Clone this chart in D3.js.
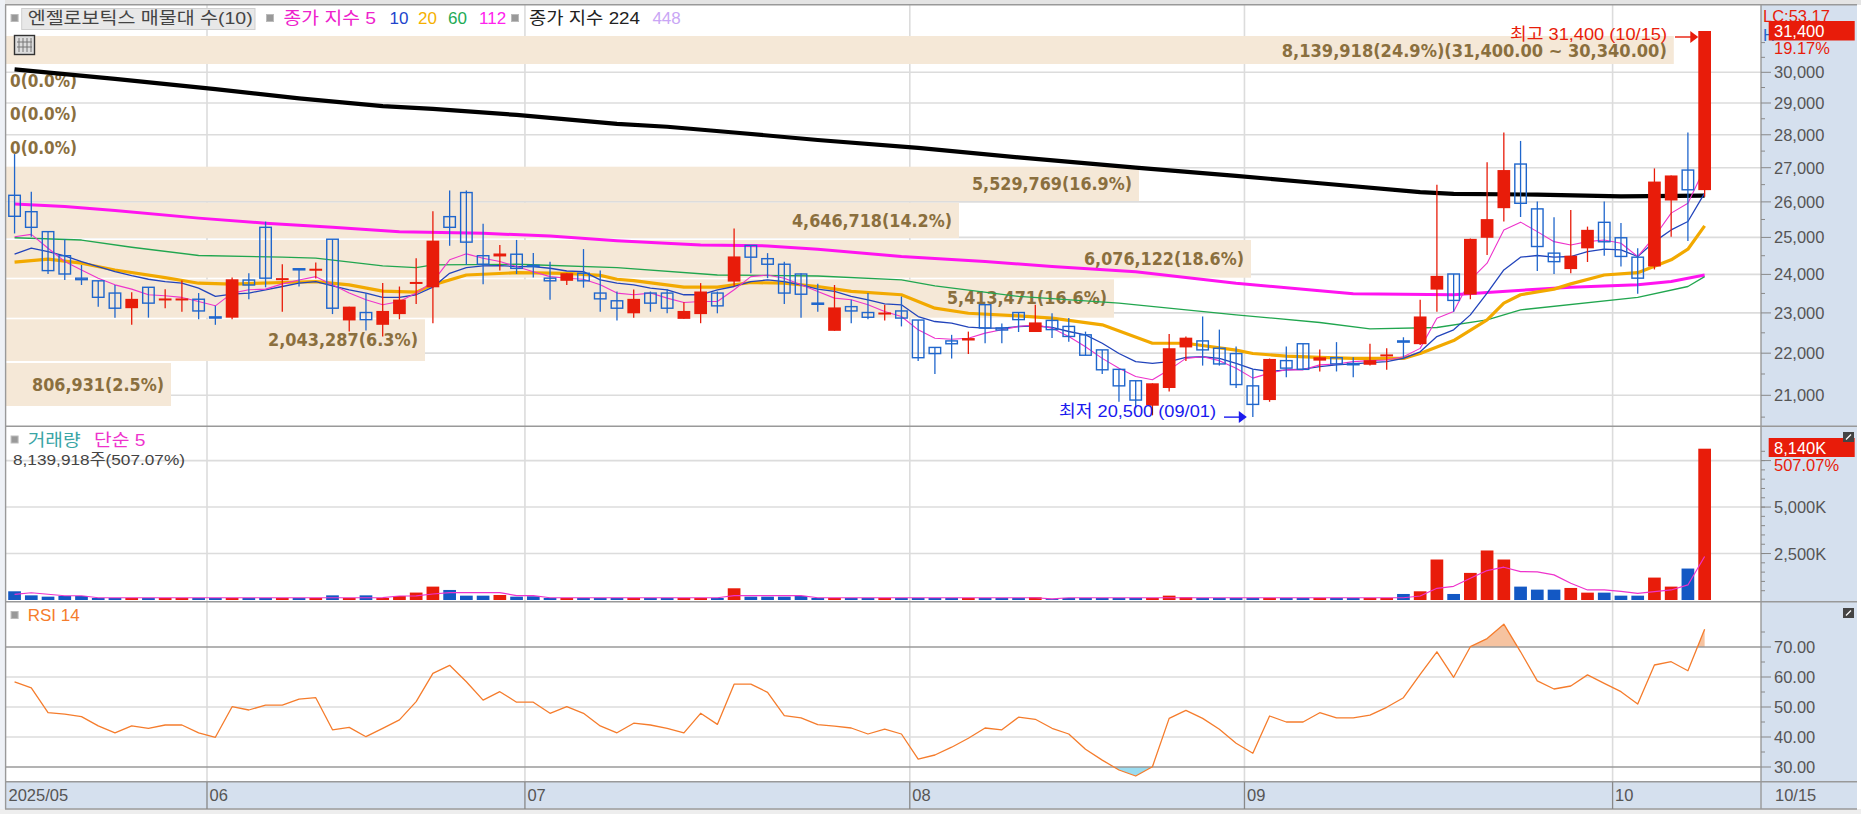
<!DOCTYPE html>
<html><head><meta charset="utf-8">
<style>html,body{margin:0;padding:0;background:#fff;overflow:hidden}svg{display:block}text{font-family:"Liberation Sans","Noto Sans CJK KR",sans-serif}</style>
<script src="https://cdn.jsdelivr.net/npm/d3@7"></script></head><body><div id="c"></div>
<script>
const opens=[26190,25720,25160,24500,23900,23830,23510,23120,23660,23350,23350,23350,22900,22880,23850,25280,23870,24150,24120,24950,22810,23010,22700,22970,23770,23660,25580,26270,24500,24480,24540,24240,23900,23830,24030,23510,23310,
22990,23510,23510,22850,22970,23510,23810,24780,24420,24270,24010,23250,22550,23160,23010,22980,23050,22820,22140,22300,22310,23210,22620,23010,22520,22810,22660,22450,22080,21610,21340,20760,21170,22140,22300,22120,21990,
21220,20890,21820,22230,21820,21890,21750,21720,21940,22300,22220,23600,24010,23470,24990,25820,27110,25800,24570,24140,24700,25420,24990,24460,24210,26040,26930,26340];
const highs=[27410,26290,25160,24950,24250,23830,23720,23530,23660,23610,23840,23510,23180,23920,24030,25440,24270,24150,24320,24950,23160,23510,23770,23680,24430,25730,26330,26330,25380,24790,24930,24570,24340,24030,24680,24100,23550,
23600,23550,23610,23270,23770,23550,25250,24780,24570,24340,24030,23750,23720,23340,23510,23210,23420,22820,22140,22450,22530,23210,22730,23010,23210,22990,22870,22530,22080,21610,21340,21280,22470,22410,22910,22580,22160,
21610,21870,22160,22230,22090,22270,21900,22230,22120,22390,23340,26500,24010,24970,27160,28070,27810,26010,25560,25770,25300,26010,25400,24700,26980,26770,28070,31400];
const lows=[25110,25020,24010,23850,23720,23160,22880,22700,22880,23120,23030,22840,22700,22840,23350,23660,23030,23680,23890,22970,22530,22560,22410,22840,23230,22740,24770,24250,23740,24100,24010,23920,23340,23720,23650,23030,22810,
22880,23030,22990,22850,22740,22990,23680,24030,23900,23230,22880,23030,22550,22740,22840,22810,22660,21810,21500,21870,21980,22240,22240,22520,22520,22370,22280,21950,21500,20850,20700,20540,21090,21810,21700,21700,21170,
20500,20850,21420,21600,21560,21560,21420,21700,21600,21870,22200,23030,23030,23350,24520,25440,25570,24090,24010,24030,24330,24500,24210,23490,24130,25020,24900,26150];
const closes=[25590,25280,24100,24010,23860,23400,23120,23360,23250,23370,23370,23050,22870,23870,23720,23900,23900,24120,24150,23120,23160,22830,23050,23340,23800,24910,25280,24870,24270,24560,24160,24210,23830,24030,23830,23360,23120,
23360,23250,23120,23050,23550,23180,24480,24460,24270,23510,23480,23220,23140,23050,22890,23010,22870,21890,21990,22230,22370,22620,22570,22830,22760,22580,22410,21950,21600,21220,20890,21280,22120,22380,22080,21740,21250,
20790,21860,21640,21610,21900,21740,21720,21830,21970,22270,22910,23960,23320,24960,25510,26930,25960,24750,24340,24500,25210,24880,24480,23900,26590,26770,26350,31400];
const ma5=[25019,25085,24703,24343,24117,23897,23724,23612,23466,23440,23397,23293,23181,23509,23595,23612,23750,23853,23940,23724,23509,23336,23207,23293,23509,23810,24388,24550,24433,24343,24208,24072,23940,23897,23871,23724,23509,
23466,23509,23379,23267,23293,23293,23595,23940,23983,23897,23724,23552,23379,23336,23207,23035,22908,22575,22367,22342,22367,22492,22575,22658,22700,22617,22408,22158,21874,21638,21441,21362,21599,21874,21913,21819,21638,
21402,21520,21599,21599,21717,21740,21795,21819,21835,21913,22117,22867,23035,23853,24298,25207,25425,25160,24883,24793,24883,24928,24838,24478,25019,25679,25962,26981];
const ma10=[24541,24703,24613,24496,24343,24208,24072,23966,23871,23810,23767,23638,23422,23483,23509,23595,23681,23767,23810,23698,23595,23509,23397,23397,23466,23664,24027,24180,24225,24234,24208,24208,24163,24090,24072,23853,23767,
23724,23638,23595,23466,23466,23595,23681,23810,23853,23810,23724,23612,23552,23422,23336,23233,23207,22908,22783,22742,22642,22617,22617,22658,22675,22633,22533,22450,22242,21992,21795,21756,21795,21898,21913,21874,21756,
21614,21559,21599,21614,21677,21717,21740,21772,21795,21874,22033,22408,22575,22950,23509,24117,24460,24505,24460,24478,24613,24676,24658,24478,24883,25207,25444,26252];
const ma20Idx=[0,2,4,6,9,11,13,16,18,20,22,24,25,27,30,33,35,36,37,40,42,44,46,48,50,53,55,57,60,62,65,68,70,73,74,76,78,80,83,84,86,88,89,90,92,93,95,97,99,100,101];
const ma20=[24325,24406,24298,24117,23914,23767,23741,23785,23810,23724,23560,23535,23724,23983,24045,24027,23974,23871,23836,23664,23664,23785,23767,23681,23552,23466,23120,22992,22925,22867,22700,22242,22242,22075,21992,21929,21898,21874,21874,21992,22308,22825,23250,23466,23612,23750,23983,24045,24388,24676,25320];
const ma60Idx=[0,4,7,11,16,18,22,24,25,30,36,42,48,53,55,60,66,73,78,81,85,88,90,97,100,101];
const ma60=[24991,24928,24730,24505,24460,24433,24225,24180,24252,24270,24180,23983,23957,23853,23698,23422,23250,22950,22758,22600,22633,22825,23078,23397,23681,23940];
const ma112Idx=[0,3,6,11,15,19,23,28,32,36,41,45,48,53,58,62,67,73,78,80,86,88,93,97,99,101];
const ma112=[25943,25868,25755,25538,25396,25283,25160,25113,25038,24910,24793,24766,24676,24478,24343,24208,24072,23767,23569,23491,23466,23526,23664,23724,23810,23983];
const ma224Idx=[0,6,12,17,22,25,30,36,39,43,48,54,60,67,73,78,84,86,91,96,101];
const ma224=[30100,29780,29450,29150,28900,28810,28620,28340,28250,28070,27840,27600,27310,27000,26760,26540,26280,26230,26210,26160,26180];
const volumes=[468,250,180,216,216,108,108,108,108,108,108,108,108,108,108,108,108,108,108,250,108,250,108,216,400,720,540,234,234,270,180,200,108,108,108,108,108,
108,108,108,108,108,108,630,180,180,180,216,108,108,108,108,108,108,108,108,108,108,108,108,108,144,50,108,108,108,108,108,108,234,144,108,108,108,
108,108,108,108,108,108,108,108,108,324,468,2178,324,1458,2664,2178,720,558,558,648,396,396,234,234,1206,720,1692,8140];
const volMaIdx=[0,1,2,3,4,5,18,22,23,24,25,26,29,30,31,32,42,43,47,48,61,62,63,83,84,85,86,87,88,89,90,91,92,93,94,95,96,97,98,99,100,101];
const volMa=[300,390,310,230,230,120,120,130,216,220,324,396,396,234,234,120,120,234,234,120,120,60,120,120,216,630,738,1170,1584,1764,1530,1512,1350,900,540,540,468,360,450,540,810,2340];
const rsi=[58.4,56.4,48.1,47.6,46.8,43.7,41.4,43.7,42.9,44.0,44.0,41.4,39.9,50.1,49.0,50.6,50.6,52.6,53.1,42.4,43.2,40.1,42.9,45.7,51.8,61.2,63.9,58.4,52.3,55.1,51.6,51.6,47.9,50.1,47.9,43.7,41.4,
44.6,44.0,42.9,41.4,47.9,44.2,57.6,57.6,54.9,47.1,46.4,44.1,43.6,43.0,41.0,42.6,41.0,32.6,34.0,36.6,39.6,43.0,42.4,46.6,45.9,42.9,41.0,35.9,32.3,29.0,27.0,30.1,46.2,48.9,46.2,42.6,37.9,
34.6,47.0,45.0,45.0,48.1,46.4,46.4,47.3,49.9,53.1,60.9,68.4,59.9,70.1,72.8,77.6,68.4,58.7,56.0,57.0,60.7,57.9,55.1,51.0,64.0,65.1,62.1,75.9];
const monthStarts=[0,12,31,54,74,96];
const monthLabels=["2025/05","06","07","08","09","10"];
const priceTicks=[21000,22000,23000,24000,25000,26000,27000,28000,29000,30000];
const priceMinor=[20500,21500,22500,23500,24500,25500,26500,27500,28500,29500,30500,31000];
const volTicks=[2500,5000,7500];
const rsiTicks=[30,40,50,60,70];
const bandLabels=["8,139,918(24.9%)(31,400.00 ~ 30,340.00)","5,529,769(16.9%)","4,646,718(14.2%)","6,076,122(18.6%)","5,413,471(16.6%)","2,043,287(6.3%)","806,931(2.5%)"];
const bandTop=[36,166.7,202.7,240,279.3,319.3,363];
const bandBottom=[64,201,238,277.7,317.7,361,406];
const bandRight=[1673.8,1139,959,1251,1114,425,171];
const emptyLabels=["0(0.0%)","0(0.0%)","0(0.0%)"];
const emptyY=[81,114,148];

const W=1861,H=814,PR=1761,n=closes.length;
const svg=d3.select("#c").append("svg").attr("width",W).attr("height",H);
const RED="#e81c0a",BLUE="#1f66cc",VBLUE="#1358c4",GRID="#dcdcdc",AX="#d5e0ee",FR="#999",TX="#555";
const x=d3.scaleBand().domain(d3.range(n)).range([6.2,1713]);
const cx=i=>x(i)+x.step()/2;
const y=d3.scaleLog().domain([21000,30000]).range([395.3,72.3]);
const yV=d3.scaleLinear().domain([0,8140]).range([600,448.7]);
const yR=d3.scaleLinear().domain([30,70]).range([767,647]);

// background
svg.append("rect").attr("width",W).attr("height",H).attr("fill","#fff");
svg.append("rect").attr("width",W).attr("height",5).attr("fill","#e4e4e4");
svg.append("rect").attr("width",5).attr("height",H).attr("fill","#eef1f6");
svg.append("rect").attr("y",809).attr("width",W).attr("height",5).attr("fill","#eeeeee");
svg.append("rect").attr("x",PR).attr("y",5).attr("width",W-PR-4).attr("height",804).attr("fill",AX);
svg.append("rect").attr("x",6).attr("y",781.7).attr("width",PR-6).attr("height",27).attr("fill",AX);

// grid
const hline=(yy,c,w,g)=>g.append("line").attr("x1",6).attr("x2",PR).attr("y1",yy).attr("y2",yy).attr("stroke",c).attr("stroke-width",w);
const grid=svg.append("g");
monthStarts.slice(1).forEach(m=>grid.append("line").attr("x1",x(m)).attr("x2",x(m)).attr("y1",5).attr("y2",781).attr("stroke",GRID).attr("stroke-width",1.6));
priceTicks.forEach(t=>hline(y(t),GRID,1.6,grid));
volTicks.forEach(t=>hline(yV(t),GRID,1.6,grid));
rsiTicks.filter(t=>t!=30&&t!=70).forEach(t=>hline(yR(t),GRID,1.6,grid));

// profile bands
svg.append("g").selectAll("rect").data(bandTop).join("rect").attr("x",6).attr("y",d=>d)
 .attr("width",(d,i)=>bandRight[i]-6).attr("height",(d,i)=>bandBottom[i]-d).attr("fill","#f5e8d7");
const BT="#8a6f3e";
const lblY=[50,183,220,258,297.7,339,384];
const lblW=[385,160,160,160,160,150,132];
svg.append("g").selectAll("text").data(bandLabels).join("text").attr("x",(d,i)=>bandRight[i]-7).attr("y",(d,i)=>lblY[i]+6.5)
 .attr("text-anchor","end").attr("font-size",17).attr("font-weight","bold").attr("textLength",(d,i)=>lblW[i]).attr("lengthAdjust","spacingAndGlyphs")
 .style("font-family","'DejaVu Sans Condensed','DejaVu Sans'").attr("fill",BT).text(d=>d);
svg.append("g").selectAll("text").data(emptyLabels).join("text").attr("x",10).attr("y",(d,i)=>emptyY[i]+6)
 .attr("font-size",17).attr("font-weight","bold").style("font-family","'DejaVu Sans Condensed','DejaVu Sans'").attr("fill",BT).text(d=>d);

// moving averages
const drawLine=(idx,vals,c,w,yy)=>svg.append("path").datum(vals).attr("fill","none").attr("stroke",c).attr("stroke-width",w).attr("stroke-linejoin","round")
 .attr("d",d3.line().x((d,i)=>cx(idx?idx[i]:i)).y(d=>yy(d)));
drawLine(ma224Idx,ma224,"#000",4.2,y);
drawLine(ma112Idx,ma112,"#ff14f0",3,y);
drawLine(ma60Idx,ma60,"#21a64f",1.3,y);
drawLine(ma20Idx,ma20,"#f2a900",3.2,y);
drawLine(null,ma10,"#2244bb",1.3,y);
drawLine(null,ma5,"#ee33cc",1.1,y);

// candles
const BW=12.7;
const cg=svg.append("g");
d3.range(n).forEach(i=>{
 const up=closes[i]>=opens[i],c=up?RED:BLUE,t=y(Math.max(opens[i],closes[i])),b=y(Math.min(opens[i],closes[i]));
 cg.append("line").attr("x1",cx(i)).attr("x2",cx(i)).attr("y1",y(highs[i])).attr("y2",y(lows[i])).attr("stroke",c).attr("stroke-width",1.3);
 if(up) cg.append("rect").attr("x",cx(i)-BW/2).attr("y",t).attr("width",BW).attr("height",Math.max(b-t,2)).attr("fill",c);
 else cg.append("rect").attr("x",cx(i)-BW/2+.6).attr("y",t).attr("width",BW-1.2).attr("height",Math.max(b-t,.5)).attr("fill","none").attr("stroke",c).attr("stroke-width",1.4);
});

// volume
svg.append("g").selectAll("rect").data(volumes).join("rect").attr("x",(d,i)=>cx(i)-BW/2).attr("y",d=>yV(d)).attr("width",BW)
 .attr("height",d=>yV(0)-yV(d)).attr("fill",(d,i)=>closes[i]>=opens[i]?RED:VBLUE);
drawLine(volMaIdx,volMa,"#ee33cc",1.2,yV);

// RSI areas
const defs=svg.append("defs");
defs.append("clipPath").attr("id","ob").append("rect").attr("x",0).attr("y",0).attr("width",W).attr("height",yR(70));
defs.append("clipPath").attr("id","os").append("rect").attr("x",0).attr("y",yR(30)).attr("width",W).attr("height",40);
svg.append("path").datum(rsi).attr("clip-path","url(#ob)").attr("fill","#f6c3a0").attr("d",d3.area().x((d,i)=>cx(i)).y0(yR(70)).y1(d=>yR(d)));
svg.append("path").datum(rsi).attr("clip-path","url(#os)").attr("fill","#9adcf0").attr("d",d3.area().x((d,i)=>cx(i)).y0(yR(30)).y1(d=>yR(d)));
[30,70].forEach(t=>hline(yR(t),"#9a9a9a",1.6,svg));
drawLine(null,rsi,"#f57c2c",1.3,yR);

// frames
[4.7,426.3,601.7,781.7,809].forEach(v=>svg.append("line").attr("x1",5).attr("x2",W-4).attr("y1",v).attr("y2",v).attr("stroke",FR).attr("stroke-width",1.4));
svg.append("line").attr("x1",5.6).attr("x2",5.6).attr("y1",5).attr("y2",809).attr("stroke",FR).attr("stroke-width",1.4);
svg.append("line").attr("x1",PR).attr("x2",PR).attr("y1",5).attr("y2",809).attr("stroke",FR).attr("stroke-width",1.4);
monthStarts.slice(1).forEach(m=>svg.append("line").attr("x1",x(m)).attr("x2",x(m)).attr("y1",782).attr("y2",809).attr("stroke","#888").attr("stroke-width",1.3));

// axes
const axisG=(scale,major,minor,fmt)=>{
 const g=svg.append("g");
 minor.forEach(t=>g.append("line").attr("x1",PR).attr("x2",PR+4).attr("y1",scale(t)).attr("y2",scale(t)).attr("stroke","#888"));
 major.forEach(t=>{g.append("line").attr("x1",PR).attr("x2",PR+10).attr("y1",scale(t)).attr("y2",scale(t)).attr("stroke","#888");
  if(fmt(t)) g.append("text").attr("x",PR+13).attr("y",scale(t)+6).attr("font-size",16.5).attr("fill",TX).text(fmt(t));});
};
axisG(y,priceTicks,priceMinor,d3.format(","));
axisG(yV,volTicks,d3.range(500,8500,500),t=>t==7500?"":d3.format(",")(t)+"K");
axisG(yR,rsiTicks,[35,45,55,65,75],d3.format(".2f"));

monthLabels.forEach((m,i)=>svg.append("text").attr("x",(i?x(monthStarts[i]):6)+2.5).attr("y",801).attr("font-size",16.5).attr("fill",TX).text(m));
svg.append("text").attr("x",1775).attr("y",801).attr("font-size",16.5).attr("fill",TX).text("10/15");

// text helper; optional stretched width to the reference's wider bitmap font
const t0=(xx,yy,s,c,fs,tl)=>{const e=svg.append("text").attr("x",xx).attr("y",yy).attr("fill",c).attr("font-size",fs).text(s);
 if(tl) e.attr("textLength",tl).attr("lengthAdjust","spacingAndGlyphs"); return e;};
t0(1763,22,"LC:53.17",RED,16.5);
t0(1763,41,"H",BLUE,16.5);
svg.append("rect").attr("x",1768.7).attr("y",21).attr("width",86).attr("height",19.5).attr("fill",RED);
t0(1774,36.5,"31,400","#fff",16.5);
t0(1774,54,"19.17%",RED,16.5);
svg.append("rect").attr("x",1768.7).attr("y",438).attr("width",86).attr("height",19).attr("fill",RED);
t0(1774,453.5,"8,140K","#fff",16.5);
t0(1774,471,"507.07%",RED,16.5);
[[1843,432],[1843,608]].forEach(p=>{svg.append("rect").attr("x",p[0]).attr("y",p[1]).attr("width",11).attr("height",10).attr("fill","#444");
 svg.append("path").attr("d",`M${p[0]+3} ${p[1]+7.5}L${p[0]+8} ${p[1]+2.5}`).attr("stroke","#fff").attr("stroke-width",1.2);});

// legends
const sq=(xx,yy)=>svg.append("rect").attr("x",xx-3.5).attr("y",yy-3.5).attr("width",7).attr("height",7).attr("fill","#999").attr("stroke","#bbb");
sq(14.6,18);
svg.append("rect").attr("x",21.7).attr("y",8.5).attr("width",233.3).attr("height",21).attr("fill","#e8e8e8").attr("stroke","#cfcfcf");
t0(27.7,24,"엔젤로보틱스 매물대 수(10)","#444",17,225);
sq(270,18);
t0(283.5,24,"종가 지수 5","#ee22cc",17,92.5);
t0(389.5,24,"10","#2244cc",17);
t0(418,24,"20","#f5b000",17);
t0(448,24,"60","#22aa55",17);
t0(479,24,"112","#ff22ee",17);
sq(515,18);
t0(529,24,"종가 지수 224","#222",17,111);
t0(652.4,24,"448","#c9a6f5",17);
sq(14.6,439.5);
t0(27.7,446,"거래량","#3aa5a5",17,53);
t0(94,446,"단순 5","#ee33cc",17,51.5);
t0(13,465,"8,139,918주(507.07%)","#444",15.5,172);
sq(14.6,615);
t0(27.7,621,"RSI 14","#f57c2c",17,52);

// table icon
const ic=svg.append("g");
ic.append("rect").attr("x",14.5).attr("y",35.5).attr("width",20).attr("height",19).attr("fill","#ddd").attr("stroke","#333").attr("stroke-width",1.4);
[19,23,27,31].forEach(v=>ic.append("line").attr("x1",v).attr("x2",v).attr("y1",38).attr("y2",52).attr("stroke","#777"));
[42,47].forEach(v=>ic.append("line").attr("x1",17).attr("x2",32).attr("y1",v).attr("y2",v).attr("stroke","#777"));

// hi / lo annotations
t0(1510,40,"최고 31,400 (10/15)",RED,16.5,157);
const ti=n-1,li=lows.indexOf(d3.min(lows));
svg.append("line").attr("x1",1675).attr("x2",cx(ti)-BW/2-6).attr("y1",y(highs[ti])+6).attr("y2",y(highs[ti])+6).attr("stroke",RED).attr("stroke-width",1.4);
svg.append("path").attr("fill",RED).attr("d",`M${cx(ti)-BW/2} ${y(highs[ti])+6}l-8 -6v12z`);
t0(1059,417,"최저 20,500 (09/01)","#1a1aee",16.5,157);
svg.append("line").attr("x1",1224).attr("x2",1240).attr("y1",y(lows[li])).attr("y2",y(lows[li])).attr("stroke","#1a1aee").attr("stroke-width",1.4);
svg.append("path").attr("fill","#1a1aee").attr("d",`M${cx(li)-6} ${y(lows[li])}l-8 -6v12z`);
</script></body></html>
